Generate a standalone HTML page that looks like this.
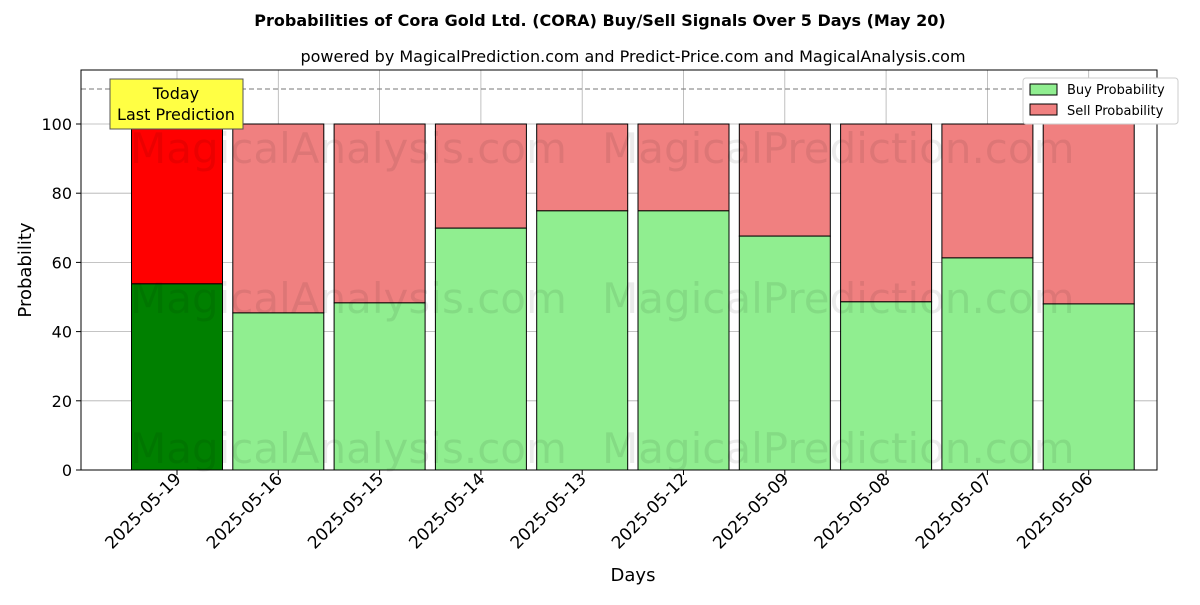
<!DOCTYPE html>
<html><head><meta charset="utf-8"><style>
body{margin:0;background:#fff;font-family:"Liberation Sans","DejaVu Sans",sans-serif}
</style></head><body>
<svg id="c" width="1200" height="600" xmlns="http://www.w3.org/2000/svg">
<text x="600" y="26" text-anchor="middle" font-size="16" font-weight="bold" font-family="DejaVu Sans, sans-serif">Probabilities of Cora Gold Ltd. (CORA) Buy/Sell Signals Over 5 Days (May 20)</text>
<text x="633" y="62" text-anchor="middle" font-size="16" font-family="DejaVu Sans, sans-serif">powered by MagicalPrediction.com and Predict-Price.com and MagicalAnalysis.com</text>
<g id="grid"></g>
<g id="bars"></g>
<g font-size="42" fill="#000" fill-opacity="0.08" font-family="DejaVu Sans, sans-serif">
<text x="130" y="163">MagicalAnalysis.com</text><text x="602" y="163">MagicalPrediction.com</text>
<text x="130" y="313">MagicalAnalysis.com</text><text x="602" y="313">MagicalPrediction.com</text>
<text x="130" y="463">MagicalAnalysis.com</text><text x="602" y="463">MagicalPrediction.com</text>
</g>
<line x1="81" x2="1157" y1="89" y2="89" stroke="#777" stroke-dasharray="5,3"/>
<rect x="81" y="70" width="1076" height="400" fill="none" stroke="#000"/>
<g id="axes" font-family="DejaVu Sans, sans-serif"></g>
<text x="31" y="270" transform="rotate(-90 31 270)" text-anchor="middle" font-size="18" font-family="DejaVu Sans, sans-serif">Probability</text>
<text x="633" y="581" text-anchor="middle" font-size="18" font-family="DejaVu Sans, sans-serif">Days</text>
<g>
<rect x="110" y="79" width="133" height="50" fill="#ffff44" stroke="#555"/>
<text x="176" y="99" text-anchor="middle" font-size="16" font-family="DejaVu Sans, sans-serif">Today</text>
<text x="176" y="120" text-anchor="middle" font-size="16" font-family="DejaVu Sans, sans-serif">Last Prediction</text>
</g>
<g font-size="13" font-family="DejaVu Sans, sans-serif">
<rect x="1023" y="78" width="155" height="46" fill="#fff" stroke="#ccc" rx="3"/>
<rect x="1030" y="84" width="27" height="11" fill="#90ee90" stroke="#000"/>
<text x="1067" y="94">Buy Probability</text>
<rect x="1030" y="104" width="27" height="11" fill="#f08080" stroke="#000"/>
<text x="1067" y="115">Sell Probability</text>
</g>
</svg>
<script>
const categories=["2025-05-19","2025-05-16","2025-05-15","2025-05-14","2025-05-13","2025-05-12","2025-05-09","2025-05-08","2025-05-07","2025-05-06"];
const buyValues=[53.8,45.4,48.3,69.9,74.9,74.9,67.6,48.6,61.3,48.0];
const yTicks=[0,20,40,60,80,100];
const NS="http://www.w3.org/2000/svg";
const y=v=>470-v*3.46;
const x=i=>177+i*101.3;
const bw=91;
function mk(t,a,p){const e=document.createElementNS(NS,t);for(const k in a)e.setAttribute(k,a[k]);p.appendChild(e);return e;}
const grid=document.getElementById('grid'),bars=document.getElementById('bars'),axes=document.getElementById('axes');
yTicks.forEach(t=>{
 const g=mk('line',{x1:81,x2:1157,y1:y(t),y2:y(t),stroke:'#b0b0b0','stroke-width':0.8},grid);
 
 
 mk('line',{x1:76,x2:81,y1:y(t),y2:y(t),stroke:'#000'},axes);
 const tx=mk('text',{x:72,y:y(t)+6,'text-anchor':'end','font-size':16},axes);tx.textContent=t;
 
 
});
categories.forEach((c,i)=>{
 const gl=mk('line',{x1:x(i),x2:x(i),y1:70,y2:470,stroke:'#b0b0b0','stroke-width':0.8},grid);
 
 
 const b=buyValues[i];
 const s=mk('rect',{x:x(i)-bw/2,y:y(100),width:bw,height:y(b)-y(100),fill:i==0?'#ff0000':'#f08080',stroke:'#000'},bars);
 
 
 const r=mk('rect',{x:x(i)-bw/2,y:y(b),width:bw,height:470-y(b),fill:i==0?'#008000':'#90ee90',stroke:'#000'},bars);
 
 
 mk('line',{x1:x(i),x2:x(i),y1:470,y2:475,stroke:'#000'},axes);
 const tx=mk('text',{x:x(i)+5,y:480,'text-anchor':'end','font-size':17,transform:`rotate(-45 ${x(i)+5} 480)`},axes);tx.textContent=c;
 
 
});
</script>
</body></html>
